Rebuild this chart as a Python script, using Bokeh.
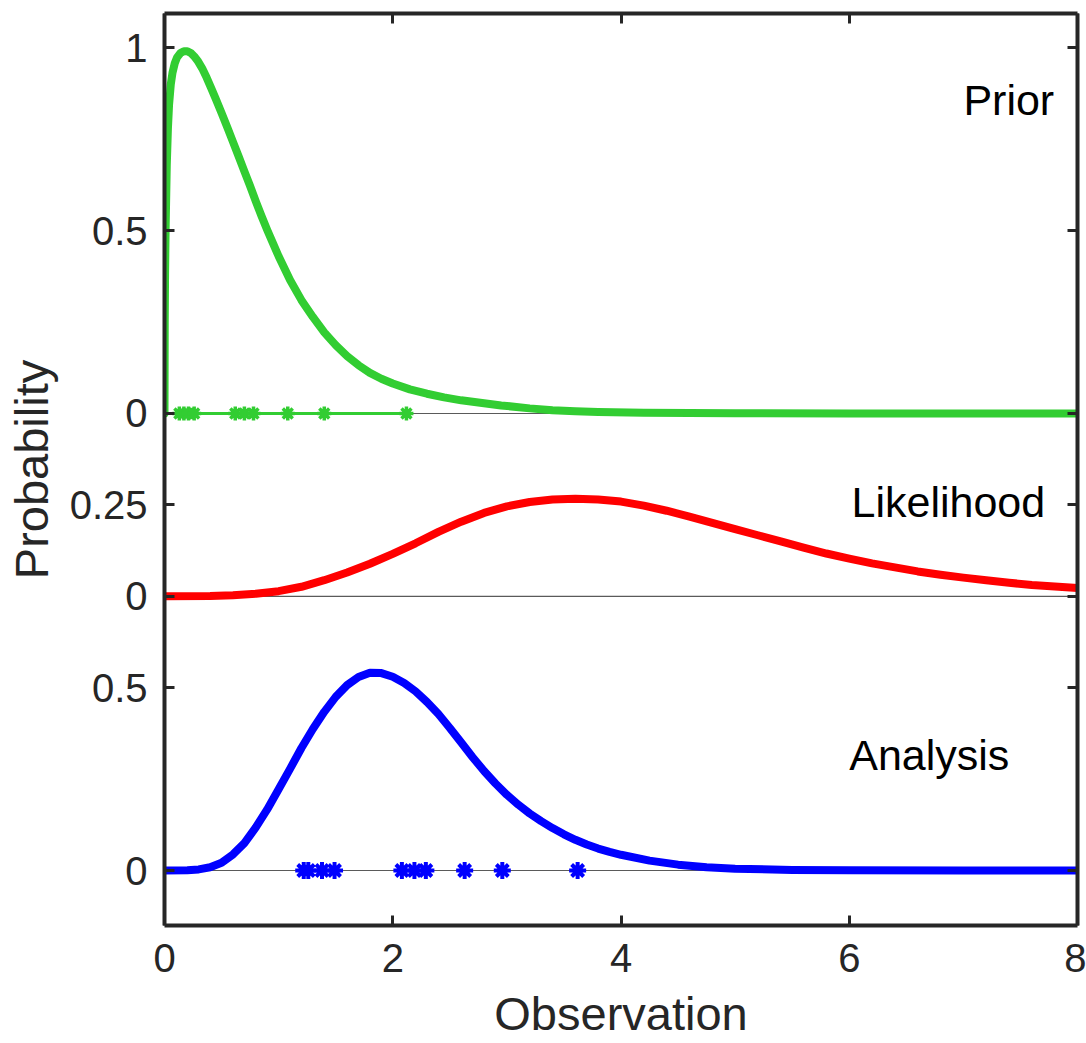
from bokeh.plotting import figure
from bokeh.models import Range1d, FixedTicker, LinearAxis, Span
from bokeh.core.properties import value
from bokeh.embed import file_html
from bokeh.resources import INLINE

# ---------------- data ----------------
prior_x = [0.0, 0.002, 0.005, 0.01, 0.02, 0.03, 0.04, 0.055, 0.07, 0.09, 0.11, 0.14, 0.17,
           0.2, 0.23, 0.26, 0.29, 0.33, 0.37, 0.41, 0.45, 0.5, 0.55, 0.6, 0.65, 0.7, 0.75,
           0.8, 0.85, 0.9, 0.95, 1.0, 1.1, 1.2, 1.3, 1.4, 1.5, 1.6, 1.7, 1.8, 1.9, 2.0,
           2.15, 2.3, 2.45, 2.6, 2.8, 2.95, 3.2, 3.4, 3.6, 3.8, 4.2, 4.6, 5.0, 6.0, 8.0]
prior_p = [0.0, 0.25, 0.38, 0.51, 0.68, 0.78, 0.845, 0.90, 0.932, 0.958, 0.974, 0.986, 0.991,
           0.991, 0.986, 0.977, 0.965, 0.944, 0.918, 0.889, 0.86, 0.822, 0.783, 0.743, 0.703,
           0.662, 0.622, 0.58, 0.54, 0.502, 0.466, 0.43, 0.365, 0.31, 0.264, 0.222, 0.187,
           0.157, 0.132, 0.111, 0.095, 0.082, 0.066, 0.054, 0.044, 0.036, 0.028, 0.022,
           0.014, 0.009, 0.006, 0.004, 0.002, 0.001, 0.0005, 0.0, 0.0]

lik_x = [0.0, 0.4, 0.6, 0.8, 1.0, 1.2, 1.4, 1.6, 1.8, 2.0, 2.2, 2.4, 2.6, 2.8, 3.0, 3.2,
         3.4, 3.6, 3.8, 4.0, 4.2, 4.4, 4.6, 4.8, 5.0, 5.2, 5.4, 5.6, 5.8, 6.0, 6.2, 6.4,
         6.6, 6.8, 7.0, 7.2, 7.4, 7.6, 7.8, 8.0]
lik_p = [0.0, 0.001, 0.003, 0.007, 0.014, 0.026, 0.044, 0.065, 0.089, 0.116, 0.145, 0.176,
         0.204, 0.228, 0.246, 0.258, 0.265, 0.267, 0.265, 0.259, 0.248, 0.234, 0.218, 0.201,
         0.184, 0.167, 0.15, 0.133, 0.117, 0.103, 0.09, 0.079, 0.068, 0.059, 0.051, 0.044,
         0.037, 0.031, 0.027, 0.023]

ana_x = [0.0, 0.2, 0.3, 0.4, 0.5, 0.6, 0.7, 0.8, 0.9, 1.0, 1.1, 1.2, 1.3, 1.4, 1.5, 1.6,
         1.7, 1.8, 1.9, 2.0, 2.1, 2.2, 2.3, 2.4, 2.5, 2.6, 2.7, 2.8, 2.9, 3.0, 3.1, 3.2,
         3.3, 3.4, 3.5, 3.6, 3.7, 3.8, 3.9, 4.0, 4.25, 4.5, 4.75, 5.0, 5.5, 6.0, 7.0, 8.0]
ana_p = [0.0, 0.001, 0.003, 0.009, 0.021, 0.044, 0.075, 0.118, 0.167, 0.222, 0.278, 0.335,
         0.387, 0.434, 0.475, 0.507, 0.529, 0.541, 0.54, 0.53, 0.513, 0.49, 0.461, 0.428,
         0.39, 0.35, 0.31, 0.272, 0.238, 0.207, 0.18, 0.156, 0.135, 0.116, 0.099, 0.084,
         0.071, 0.06, 0.051, 0.043, 0.027, 0.016, 0.009, 0.005, 0.0015, 0.0004, 0.0, 0.0]

prior_obs = [0.13, 0.17, 0.21, 0.26, 0.62, 0.70, 0.78, 1.08, 1.40, 2.12]
analysis_obs = [1.22, 1.26, 1.38, 1.49, 2.08, 2.19, 2.29, 2.63, 2.96, 3.62]

panel_names = ["Prior", "Likelihood", "Analysis"]
panel_ticks = {"Prior": [0, 0.5, 1], "Likelihood": [0, 0.25], "Analysis": [0, 0.5]}
panel_tick_labels = {"Prior": ["0", "0.5", "1"], "Likelihood": ["0", "0.25"], "Analysis": ["0", "0.5"]}
x_ticks = [0, 2, 4, 6, 8]

# ---------------- layout / style ----------------
OFFSET = {"Prior": 1.25, "Likelihood": 0.75, "Analysis": 0.0}
COLOR = {"Prior": "#32CD32", "Likelihood": "#FF0000", "Analysis": "#0000FF"}
LABEL_POS = {"Prior": (7.0, 2.108), "Likelihood": (6.02, 1.007), "Analysis": (6.0, 0.315)}
FONT = "Liberation Sans"
AX = "#262626"

p = figure(frame_width=913, frame_height=912,
           x_range=Range1d(0, 8), y_range=Range1d(-0.1504, 2.344),
           output_backend="svg", toolbar_location=None,
           min_border_left=164, min_border_right=9, min_border_top=13, min_border_bottom=0)
p.grid.visible = False
p.outline_line_color = None
p.background_fill_color = "white"
p.border_fill_color = "white"

yt, ylab = [], {}
for n in panel_names:
    for v, s in zip(panel_ticks[n], panel_tick_labels[n]):
        t = OFFSET[n] + v
        yt.append(t)
        ylab[t] = s
yt = sorted(yt)

def style_axis(ax, show_labels):
    ax.axis_line_color = AX
    ax.axis_line_width = 4
    ax.major_tick_line_color = AX
    ax.major_tick_line_width = 3
    ax.major_tick_in = 10
    ax.major_tick_out = 0
    ax.minor_tick_line_color = None
    if show_labels:
        ax.major_label_text_font = FONT
        ax.major_label_text_font_size = "40px"
        ax.major_label_text_color = AX
        ax.axis_label_text_font = FONT
        ax.axis_label_text_font_size = "47px"
        ax.axis_label_text_font_style = "normal"
        ax.axis_label_text_color = AX
    else:
        ax.major_label_text_font_size = "1px"
        ax.major_label_text_color = None
        ax.major_label_standoff = 0

xa = p.xaxis[0]
xa.ticker = FixedTicker(ticks=x_ticks)
xa.axis_label = "Observation"
style_axis(xa, True)
xa.major_label_standoff = 18
xa.axis_label_standoff = 12

ya = p.yaxis[0]
ya.ticker = FixedTicker(ticks=yt)
ya.major_label_overrides = ylab
ya.axis_label = "Probability"
style_axis(ya, True)
ya.major_label_standoff = 17
ya.axis_label_standoff = 9

top = LinearAxis(ticker=FixedTicker(ticks=x_ticks))
style_axis(top, False)
p.add_layout(top, "above")
right = LinearAxis(ticker=FixedTicker(ticks=yt))
style_axis(right, False)
p.add_layout(right, "right")

# baselines
for n in panel_names:
    p.add_layout(Span(location=OFFSET[n], dimension="width", line_color="#5a5a5a",
                      line_width=1.2, level="underlay"))

curves = {"Prior": (prior_x, prior_p), "Likelihood": (lik_x, lik_p), "Analysis": (ana_x, ana_p)}
for n in panel_names:
    xs, ps = curves[n]
    p.line(xs, [v + OFFSET[n] for v in ps], line_color=COLOR[n], line_width=8,
           line_cap="round", line_join="round")

# observations
p.line(prior_obs, [OFFSET["Prior"]] * len(prior_obs), line_color=COLOR["Prior"], line_width=3)
p.scatter(prior_obs, [OFFSET["Prior"]] * len(prior_obs), marker="asterisk", size=14,
          line_color=COLOR["Prior"], line_width=3.5)
p.scatter(analysis_obs, [OFFSET["Analysis"]] * len(analysis_obs), marker="asterisk", size=17,
          line_color=COLOR["Analysis"], line_width=4)

# panel labels
p.text(x=[LABEL_POS[n][0] for n in panel_names], y=[LABEL_POS[n][1] for n in panel_names],
       text=panel_names, text_font=value(FONT), text_font_size=value("43px"),
       text_color="black", text_align="left", text_baseline="alphabetic")

open("out.html", "w").write(file_html(p, INLINE))
